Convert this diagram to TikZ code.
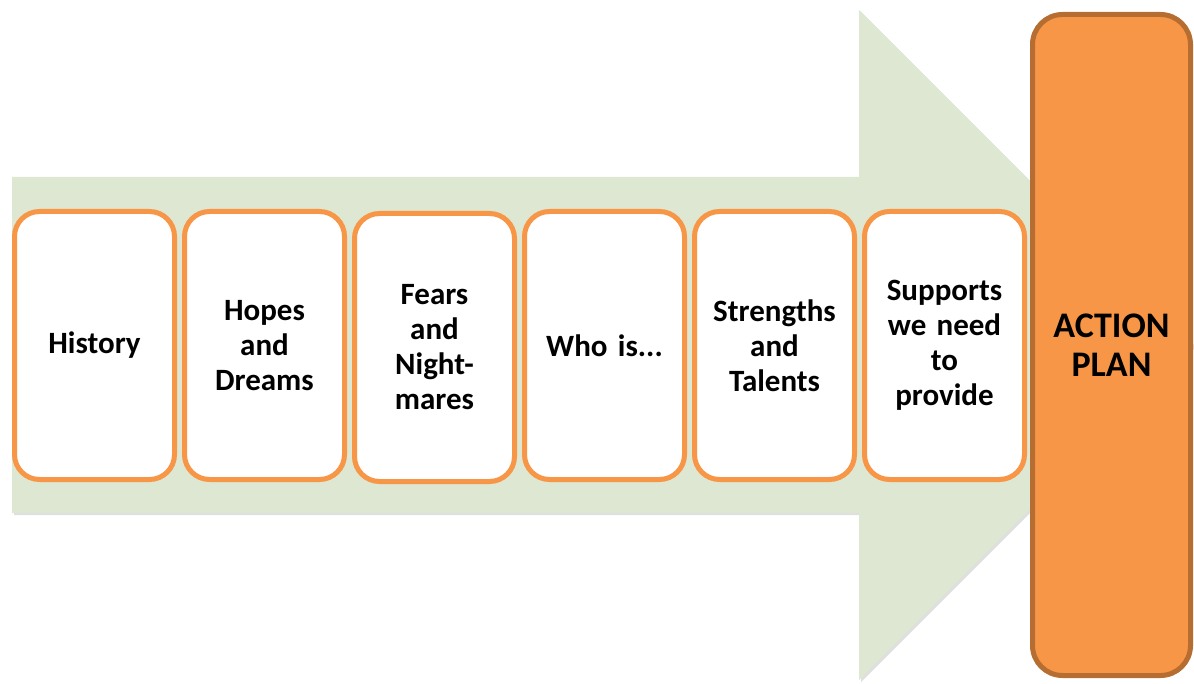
\documentclass[tikz,border=0pt]{standalone}
\usepackage{fontspec}
\setmainfont{Carlito}
\usetikzlibrary{positioning,shadows}

\definecolor{arrowgreen}{HTML}{DDE7D1}
\definecolor{boxorange}{HTML}{F79646}
\definecolor{planedge}{HTML}{B66D31}

\begin{document}
\begin{tikzpicture}[x=1pt,y=-1pt,node distance=10pt,
    stage/.style={draw=boxorange, fill=white, line width=5pt, rounded corners=25pt,
      minimum width=160pt, minimum height=268pt, outer sep=0pt, align=center,
      text width=150pt, font=\bfseries\fontsize{31}{35}\selectfont},
    plan/.style={draw=planedge, fill=boxorange, line width=5pt, rounded corners=30pt,
      minimum width=158pt, minimum height=661pt, outer sep=0pt, align=center,
      font=\bfseries\fontsize{36}{39}\selectfont}]
  \useasboundingbox (0,0) rectangle (1194,684);

  % big arrow in the back
  \fill[arrowgreen, drop shadow={shadow xshift=2pt, shadow yshift=-2pt, opacity=0.25}]
    (12,177) -- (859,177) -- (859,10) -- (1194,345) -- (859,680) -- (859,513) -- (12,513) -- cycle;

  \node[stage]  (history)  at (94.5,345.5)          {History};
  \node[stage]  (hopes)    [right=of history]       {Hopes\\and\\Dreams};
  \node[stage]  (fears)    [right=of hopes, yshift=-2pt] {Fears\\and\\Night-\\mares};
  \node[stage]  (whois)    [right=of hopes, xshift=170pt] {Who is...};
  \node[stage]  (strength) [right=of whois]         {Strengths\\and\\Talents};
  \node[stage]  (supports) [right=of strength]      {Supports\\we need\\to\\provide};

  \node[plan]   (action)   at (1111.5,345)          {ACTION\\PLAN};

\end{tikzpicture}
\end{document}
